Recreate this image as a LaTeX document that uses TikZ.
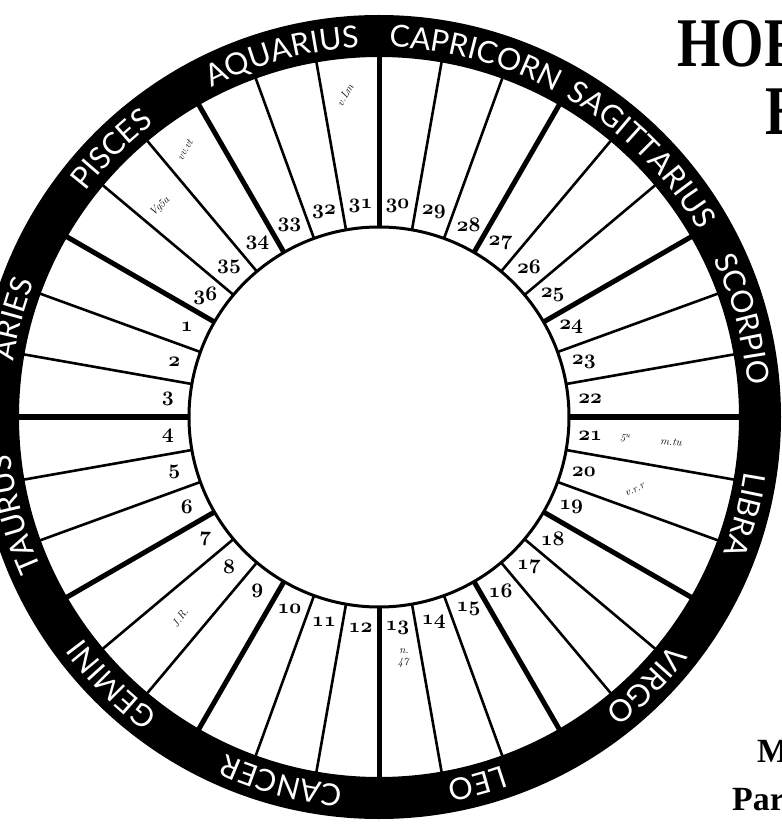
\documentclass[tikz,border=0pt]{standalone}
\usepackage{fontspec}
\usetikzlibrary{decorations.text}
\newfontfamily\signfont[LetterSpace=8]{Lato}
\newfontfamily\titlefont{Liberation Serif}
\newcommand\decfont{\fontencoding{OML}\fontfamily{cmm}\fontseries{b}\fontshape{it}\fontsize{20.74}{21}\selectfont}

\begin{document}
\begin{tikzpicture}[x=1bp, y=1bp,
    spoke/.style={line width=2.6bp},
    cusp/.style={line width=5bp},
    num/.style={inner sep=0pt, font=\decfont},
    note/.style={inner sep=0pt, font=\fontsize{11}{11}\selectfont\itshape},
    headline/.style={anchor=base west, inner sep=0pt, font=\titlefont\bfseries\fontsize{70}{70}\selectfont},
    subline/.style={anchor=base west, inner sep=0pt, font=\titlefont\bfseries\fontsize{34}{34}\selectfont},
  ]
  \useasboundingbox (-379,-408) rectangle (403,417);
  \clip (-379,-408) rectangle (403,417);
  \fill[even odd rule] (0,0) circle[radius=402] (0,0) circle[radius=360];
  \draw[line width=3bp] (0,0) circle[radius=190];
  \foreach \a in {0,10,...,350}
    \draw[spoke] (\a:190) -- (\a:361);
  \foreach \a in {0,30,...,330}
    \draw[cusp] (\a:190) -- (\a:361);
  \foreach \k in {1,...,36}
    \node[num] (n\k) at ({145+10*\k}:212) {\k};
  \begin{scope}
    \signfont\fontsize{30.5}{30.5}\selectfont
    \foreach \sign [count=\i from 0] in {SCORPIO,SAGITTARIUS,CAPRICORN,AQUARIUS,PISCES,ARIES,TAURUS,GEMINI,CANCER,LEO,VIRGO,LIBRA}
      \path[decorate, decoration={text along path, text/.expanded=\sign, text align=center, text color=white}]
        ({30*\i+45}:370) arc[start angle={30*\i+45}, end angle={30*\i-15}, radius=370];
  \end{scope}
  \node[headline] (hd) at (298,350) {\scalebox{0.8}[1]{HOR}};
  \node[headline] (hd2) at (386,282) {\scalebox{0.8}[1]{E}};
  \node[subline] (m) at (378,-345) {M};
  \node[subline] (pa) at (353,-393) {Para};
  \node[note, rotate=60] (w1) at (-34,322) {v.Lm};
  \node[note, rotate=60] (w2) at (-194,267) {vv.vt};
  \node[note, rotate=45] (w3) at (-219,210) {Vg5a};
  \node[note, rotate=-5] (w4) at (246,-21) {5\textsuperscript{u}};
  \node[note, rotate=-5] (w5) at (292,-25) {m.tu};
  \node[note, rotate=25] (w6) at (256,-73) {v.r.r};
  \node[note, rotate=55] (w7) at (-199,-201) {J.R.};
  \node[note] (w8) at (25,-234) {n.};
  \node[note] (w9) at (24,-246) {47};
\end{tikzpicture}
\end{document}
